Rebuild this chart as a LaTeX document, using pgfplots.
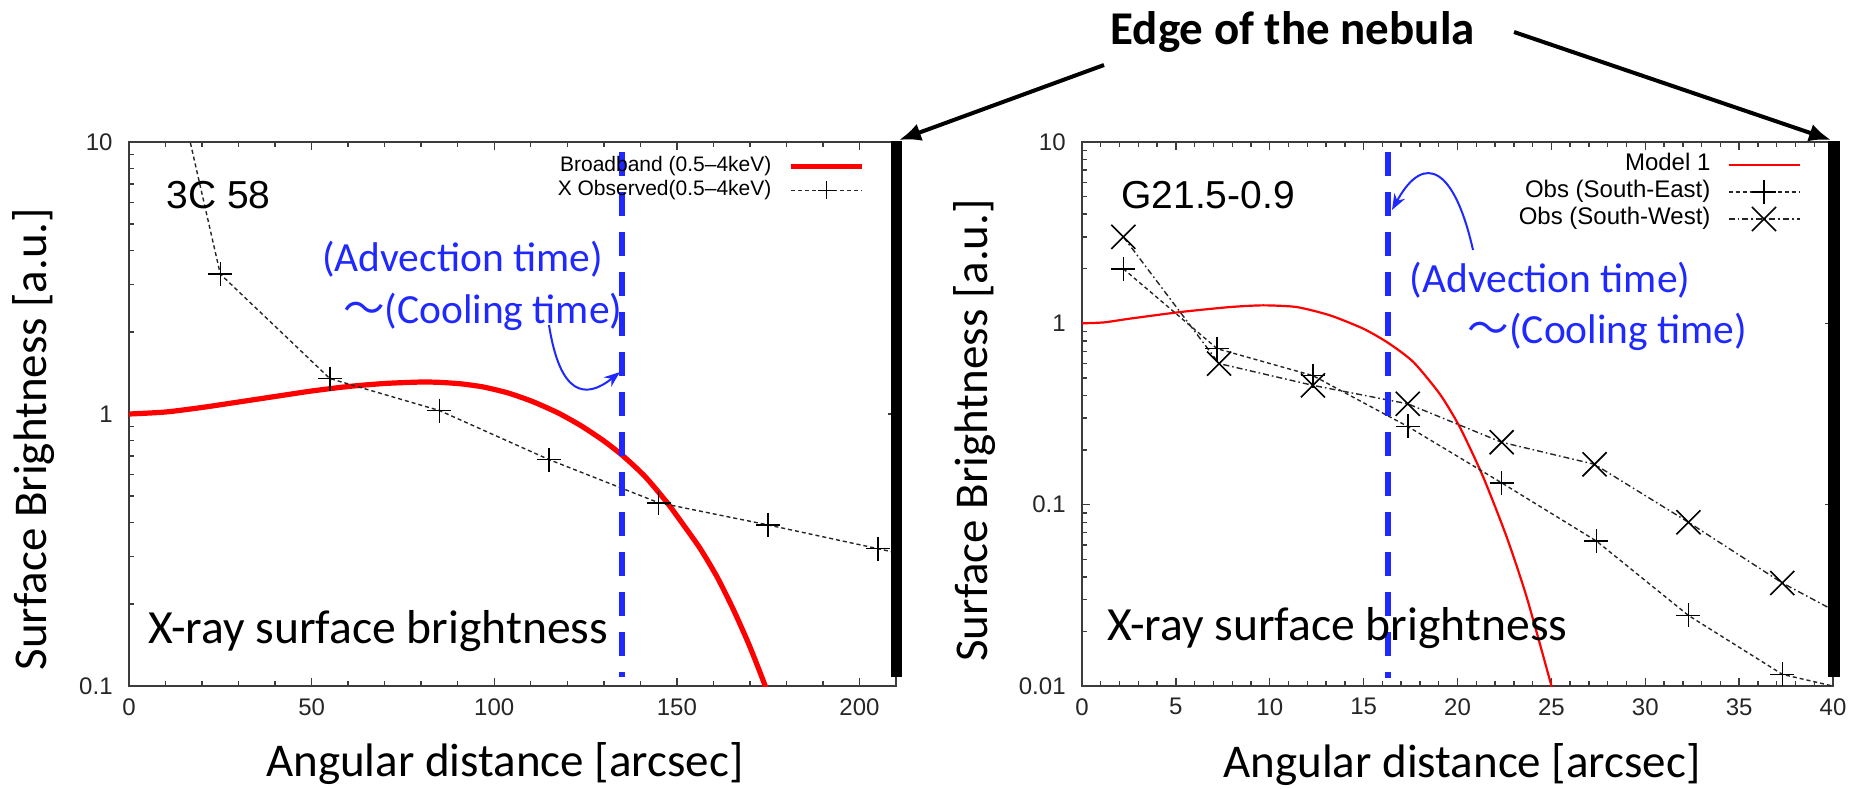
\documentclass[border=0pt]{standalone}
\usepackage{fontspec}
\setmainfont{Carlito}
\newfontfamily\helv{Liberation Sans}
\newfontfamily\cjk{Noto Sans CJK JP}
\usepackage{pgfplots}
\pgfplotsset{compat=1.18}
\usetikzlibrary{arrows.meta}
\definecolor{myblue}{RGB}{30,40,255}
\definecolor{myred}{RGB}{255,0,0}
\definecolor{axgray}{RGB}{60,60,60}

\pgfplotstableread{
x y
0 1.00
10 1.017
20 1.057
30 1.107
40 1.160
50 1.215
60 1.262
70 1.295
80 1.311
85.2 1.307
90.9 1.291
96.9 1.258
103.8 1.195
110.6 1.110
117.5 1.009
123.8 0.905
130.1 0.795
135.5 0.697
141.3 0.589
147.3 0.473
151.7 0.393
156.4 0.320
161.0 0.252
165.4 0.192
169.8 0.1415
174.2 0.100
176.9 0.078
}\leftmodel

\pgfplotstableread{
x y
10 25
25 3.27
55 1.35
85 1.03
115 0.68
145 0.472
175 0.391
205 0.32
235 0.26
}\leftobs

\pgfplotstableread{
x y
0 1.00
1.2 1.013
2.557 1.062
5.22 1.154
7.88 1.230
9.657 1.257
11.435 1.230
13.21 1.107
14.98 0.935
16.31 0.780
17.65 0.612
19.07 0.406
20.13 0.267
21.37 0.142
22.62 0.0663
23.685 0.0309
25.02 0.00986
25.25 0.0078
}\rightmodel

\pgfplotstableread{
x y
2.2 2.0
7.2 0.725
12.3 0.515
17.35 0.27
22.35 0.132
27.4 0.063
32.3 0.0245
37.3 0.0116
42.3 0.0088
}\rightse

\pgfplotstableread{
x y
2.2 3.0
7.3 0.60
12.3 0.455
17.35 0.36
22.35 0.221
27.3 0.167
32.3 0.08
37.3 0.037
42.3 0.0196
}\rightsw

\pgfplotsset{
  gp/.style={
    scale only axis,
    height=272pt,
    axis line style={axgray, line width=1.2pt},
    every tick/.style={axgray, line width=0.7pt},
    major tick length=4pt,
    minor tick length=2.5pt,
    /pgf/number format/assume math mode=true,
    tick label style={font=\helv\fontsize{12}{12}\selectfont, text=black!85},
    xticklabel style={inner sep=0pt, yshift=-6pt},
    yticklabel style={inner sep=0pt, xshift=-8pt},
    label style={font=\fontsize{23.5}{24}\selectfont},
    legend image code/.code={\draw[mark repeat=2,mark phase=2,##1] plot coordinates {(0pt,0pt) (17.75pt,0pt) (35.5pt,0pt)};},
    legend cell align=right,
    legend plot pos=right,
  },
}

\begin{document}
\begin{tikzpicture}
\path[use as bounding box] (0pt,0pt) rectangle (931pt,-394pt);
\begin{axis}[ymode=log, log ticks with fixed point, gp, at={(64.5pt,-343pt)}, anchor=south west, width=383.5pt,
  xmin=0, xmax=210, ymin=0.1, ymax=10,
  xtick={0,50,...,200}, minor x tick num=4,
  xlabel={Angular distance [arcsec]}, ylabel={Surface Brightness [a.u.]},
  xlabel style={at={(axis description cs:0.49,-0.167)}, anchor=base},
  ylabel style={at={(axis description cs:-0.107,0.454)}, anchor=base},
  legend image post style={mark size=4.5pt},
  legend style={at={(0.9596,0.976)}, anchor=north east, draw=none, fill=none,
    font=\helv\fontsize{10.5}{12}\selectfont, inner sep=0pt, row sep=1pt, column sep=8pt,
    nodes={inner sep=0.5pt, text height=7.5pt, text depth=2.5pt}},
]
\addplot[myred, line width=2.6pt, smooth, tension=0.4] table {\leftmodel};
\addlegendentry{Broadband (0.5–4keV)}
\addplot[black!85, line width=0.7pt, dash pattern=on 2pt off 1.5pt, mark=+, mark size=6pt, mark options={solid, black, line width=0.8pt}] table {\leftobs};
\addlegendentry{X Observed(0.5–4keV)}
\addplot[myblue, line width=2.8pt, dash pattern=on 12pt off 8pt, forget plot] coordinates {(135,9.19) (135,0.108)};
\end{axis}

\begin{axis}[ymode=log, log ticks with fixed point, gp, at={(541pt,-343pt)}, anchor=south west, width=375.5pt,
  xmin=0, xmax=40, ymin=0.01, ymax=10,
  xtick={0,5,...,40}, minor x tick num=4,
  xlabel={Angular distance [arcsec]}, ylabel={Surface Brightness [a.u.]},
  xlabel style={at={(axis description cs:0.506,-0.168)}, anchor=base},
  ylabel style={at={(axis description cs:-0.1265,0.47)}, anchor=base},
  legend style={at={(0.9574,0.9815)}, anchor=north east, draw=none, fill=none,
    font=\helv\fontsize{12}{13}\selectfont, inner sep=0pt, row sep=1pt, column sep=8pt,
    nodes={inner sep=0.5pt, text height=8.5pt, text depth=3pt}},
]
\addplot[myred, line width=1.1pt, smooth, tension=0.4] table {\rightmodel};
\addlegendentry{Model 1}
\addplot[black!85, line width=0.7pt, dash pattern=on 2pt off 1.5pt, mark=+, mark size=6pt, mark options={solid, black, line width=0.8pt}] table {\rightse};
\addlegendentry{Obs (South-East)}
\addplot[black!85, line width=0.7pt, dash pattern=on 3pt off 1.5pt on 0.8pt off 1.5pt, mark=x, mark size=8.5pt, mark options={solid, black, line width=0.8pt}] table {\rightsw};
\addlegendentry{Obs (South-West)}
\addplot[myblue, line width=2.8pt, dash pattern=on 12pt off 8pt, forget plot] coordinates {(16.3,8.78) (16.3,0.0111)};
\end{axis}

\begin{scope}[x=0.5pt,y=-0.5pt]
% edge of nebula bars
\draw[line width=5.5pt] (896.5,141) -- (896.5,677);
\draw[line width=6pt] (1833.5,141) -- (1833.5,677);
\draw[line width=2pt,-{Latex[length=11pt,width=9pt]}] (1104,65) -- (899,140);
\draw[line width=2pt,-{Latex[length=11pt,width=9pt]}] (1514,32) -- (1831,140);
\node[font=\bfseries\fontsize{23.5}{24}\selectfont, anchor=base, inner sep=0pt] at (1292.7,44) {Edge of the nebula};
% titles
\node[font=\helv\fontsize{19.5}{20}\selectfont, anchor=base west, inner sep=0pt] at (166,208) {3C 58};
\node[font=\helv\fontsize{19.5}{20}\selectfont, anchor=base west, inner sep=0pt] at (1121,208) {G21.5-0.9};
% blue annotations
\node[text=myblue, font=\fontsize{20.75}{22}\selectfont, inner sep=0pt] at (462.5,259) {(Advection time)};
\node[text=myblue, font=\fontsize{20.75}{22}\selectfont, inner sep=0pt] at (482.7,312) {{\cjk ～}(Cooling time)};
\node[text=myblue, font=\fontsize{20.75}{22}\selectfont, inner sep=0pt] at (1550,280) {(Advection time)};
\node[text=myblue, font=\fontsize{20.75}{22}\selectfont, inner sep=0pt] at (1607.5,332) {{\cjk ～}(Cooling time)};
\draw[myblue, line width=1pt, -{Stealth[length=8pt,width=6pt]}] (549,325) .. controls (560,395) and (585,400) .. (620,372);
\draw[myblue, line width=1pt, -{Stealth[length=8pt,width=6pt]}] (1473,250) .. controls (1455,170) and (1425,150) .. (1392,210);
% in-plot captions
\node[font=\fontsize{23.8}{24}\selectfont, anchor=base west, inner sep=0pt] at (148,643) {X-ray surface brightness};
\node[font=\fontsize{23.8}{24}\selectfont, anchor=base west, inner sep=0pt] at (1107,640) {X-ray surface brightness};
\end{scope}
\end{tikzpicture}
\end{document}
